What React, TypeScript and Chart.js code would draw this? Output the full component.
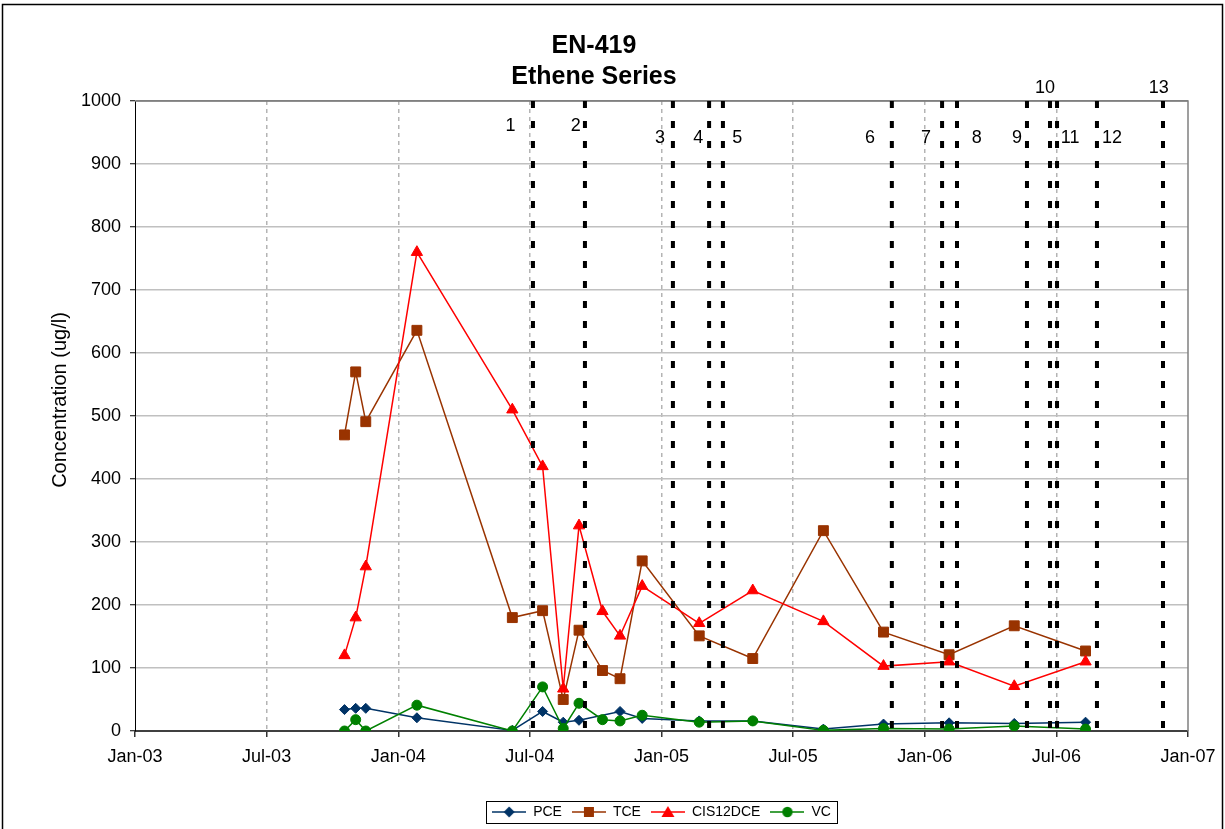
import React, { useEffect, useRef } from 'react';
import { Chart, registerables } from 'chart.js';

Chart.register(...registerables);

const FONT = '"Liberation Sans", Arial, Helvetica, sans-serif';

// x values are months since Jan-2003
const xTickLabels = ['Jan-03', 'Jul-03', 'Jan-04', 'Jul-04', 'Jan-05', 'Jul-05', 'Jan-06', 'Jul-06', 'Jan-07'];

const sampleMonths = [9.55, 10.06, 10.52, 12.85, 17.2, 18.58, 19.52, 20.24, 21.31, 22.11, 23.12, 25.72, 28.16, 31.38, 34.12, 37.11, 40.08, 43.33];
const tceValues = [470, 570, 491, 636, 180, 191, 50, 160, 96, 83, 270, 151, 115, 318, 157, 121, 167, 127];
const cisValues = [120, 180, 261, 760, 510, 420, 67, 326, 190, 151, 230, 171, 223, 174, 103, 110, 71, 110];
const vcValues = [0, 18, 0, 41, 0, 70, 4, 44, 18, 16, 25, 14, 16, 1, 4, 3, 8, 3];

const pceMonths = [9.55, 10.06, 10.52, 12.85, 17.2, 18.58, 19.52, 20.24, 22.11, 23.12, 25.72, 28.16, 31.38, 34.12, 37.11, 40.08, 43.33];
const pceValues = [34, 36, 36, 21, 1, 31, 14, 17, 31, 20, 16, 16, 3, 11, 13, 12, 14];

const eventMonths = [18.14, 20.51, 24.52, 26.17, 26.8, 34.5, 36.79, 37.47, 40.66, 41.71, 42.03, 43.85, 46.86];
const eventLabels = ['1', '2', '3', '4', '5', '6', '7', '8', '9', '10', '11', '12', '13'];
const eventLabelMonths = [17.12, 20.09, 23.93, 25.67, 27.45, 33.5, 36.06, 38.37, 40.2, 41.48, 42.63, 44.54, 46.67];
const eventLabelValues = [960, 960, 941, 941, 941, 941, 941, 941, 941, 1020, 941, 941, 1020];

const seriesNames = ['PCE', 'TCE', 'CIS12DCE', 'VC'];
const seriesColors = ['#003366', '#993300', '#ff0000', '#008000'];
const seriesStyles = ['rectRot', 'rect', 'triangle', 'circle'];
const seriesRadius = [5, 7, 6.5, 5];

const yAxisTitle = 'Concentration (ug/l)';

function makeIcon(color: string, style: string): HTMLCanvasElement {
  const c = document.createElement('canvas');
  c.width = 34;
  c.height = 14;
  const g = c.getContext('2d') as CanvasRenderingContext2D;
  g.strokeStyle = color;
  g.fillStyle = color;
  g.lineWidth = 1.5;
  g.beginPath();
  g.moveTo(0, 7);
  g.lineTo(34, 7);
  g.stroke();
  g.beginPath();
  const cx = 17, cy = 7;
  if (style === 'rectRot') {
    g.moveTo(cx, cy - 5.5); g.lineTo(cx + 5.5, cy); g.lineTo(cx, cy + 5.5); g.lineTo(cx - 5.5, cy); g.closePath();
  } else if (style === 'rect') {
    g.rect(cx - 5, cy - 5, 10, 10);
  } else if (style === 'triangle') {
    g.moveTo(cx, cy - 6); g.lineTo(cx + 6.5, cy + 5); g.lineTo(cx - 6.5, cy + 5); g.closePath();
  } else {
    g.arc(cx, cy, 5.2, 0, Math.PI * 2);
  }
  g.fill();
  return c;
}

const bgPlugin = {
  id: 'bg',
  beforeDraw(chart: any) {
    const ctx = chart.ctx;
    ctx.save();
    ctx.fillStyle = '#ffffff';
    ctx.fillRect(0, 0, chart.width, chart.height);
    ctx.restore();
  },
};

const framePlugin = {
  id: 'frame',
  beforeDatasetsDraw(chart: any) {
    const { ctx, chartArea: a } = chart;
    ctx.save();
    ctx.strokeStyle = '#808080';
    ctx.lineWidth = 1.5;
    ctx.beginPath();
    ctx.moveTo(a.left, a.top);
    ctx.lineTo(a.right, a.top);
    ctx.lineTo(a.right, a.bottom);
    ctx.stroke();
    ctx.restore();
  },
  afterDraw(chart: any) {
    const { ctx, chartArea: a } = chart;
    ctx.save();
    // outer border
    ctx.strokeStyle = '#000';
    ctx.lineWidth = 1.5;
    ctx.strokeRect(2.5, 4.5, chart.width - 5, chart.height + 20);
    // y axis title
    ctx.save();
    ctx.translate(60, (a.top + a.bottom) / 2 - 16);
    ctx.rotate(-Math.PI / 2);
    ctx.fillStyle = '#000';
    ctx.font = `20px ${FONT}`;
    ctx.textAlign = 'center';
    ctx.textBaseline = 'middle';
    ctx.fillText(yAxisTitle, 0, 0);
    ctx.restore();
    // legend frame
    const lg = chart.legend;
    if (lg && lg.legendHitBoxes && lg.legendHitBoxes.length) {
      const hb = lg.legendHitBoxes;
      let l = Infinity, r = -Infinity, cy = 0;
      hb.forEach((h: any) => {
        l = Math.min(l, h.left);
        r = Math.max(r, h.left + h.width);
        cy = h.top + h.height / 2;
      });
      ctx.lineWidth = 1;
      ctx.strokeRect(Math.round(l - 6) + 0.5, Math.round(cy - 11) + 0.5, Math.round(r - l + 12), 22);
    }
    ctx.restore();
  },
};

const eventLabelPlugin = {
  id: 'eventLabels',
  afterDatasetsDraw(chart: any) {
    const { ctx, scales } = chart;
    ctx.save();
    ctx.fillStyle = '#000';
    ctx.font = `18px ${FONT}`;
    ctx.textAlign = 'center';
    ctx.textBaseline = 'middle';
    eventLabels.forEach((t, i) => {
      ctx.fillText(t, scales.x.getPixelForValue(eventLabelMonths[i]), scales.y.getPixelForValue(eventLabelValues[i]));
    });
    ctx.restore();
  },
};

export default function App() {
  const ref = useRef<HTMLCanvasElement | null>(null);

  useEffect(() => {
    if (!ref.current) return;
    const icons = seriesNames.map((_, i) => makeIcon(seriesColors[i], seriesStyles[i]));

    const seriesData = [
      pceMonths.map((m, i) => ({ x: m, y: pceValues[i] })),
      sampleMonths.map((m, i) => ({ x: m, y: tceValues[i] })),
      sampleMonths.map((m, i) => ({ x: m, y: cisValues[i] })),
      sampleMonths.map((m, i) => ({ x: m, y: vcValues[i] })),
    ];

    const datasets: any[] = seriesNames.map((name, i) => ({
      label: name,
      data: seriesData[i],
      borderColor: seriesColors[i],
      backgroundColor: seriesColors[i],
      pointBackgroundColor: seriesColors[i],
      pointBorderColor: seriesColors[i],
      pointStyle: seriesStyles[i],
      pointRadius: seriesRadius[i],
      pointBorderWidth: 1,
      borderWidth: 1.5,
      tension: 0,
      order: 4 - i,
    }));

    eventMonths.forEach((m, i) => {
      datasets.push({
        label: 'event' + eventLabels[i],
        data: [{ x: m, y: 1000 }, { x: m, y: 0 }],
        borderColor: '#000000',
        backgroundColor: '#000000',
        borderWidth: 4,
        borderDash: [7, 13],
        pointRadius: 0,
        order: 0,
      });
    });

    const chart = new Chart(ref.current, {
      type: 'line',
      data: { datasets },
      plugins: [bgPlugin, framePlugin, eventLabelPlugin],
      options: {
        responsive: false,
        animation: false,
        layout: { padding: { top: 0, left: 0, right: 37, bottom: 0 } },
        plugins: {
          tooltip: { enabled: false },
          title: {
            display: true,
            text: ['EN-419', 'Ethene Series'],
            color: '#000',
            font: { family: FONT, size: 25, weight: 'bold', lineHeight: 1.24 },
            padding: { top: 31, bottom: 8 },
          },
          legend: {
            display: true,
            position: 'bottom',
            fullSize: false,
            labels: {
              color: '#000',
              font: { family: FONT, size: 14 },
              padding: 10,
              usePointStyle: true,
              pointStyleWidth: 34,
              boxHeight: 14,
              filter: (item: any) => item.datasetIndex < 4,
              sort: (a: any, b: any) => a.datasetIndex - b.datasetIndex,
              generateLabels: (ch: any) => {
                const base = (Chart as any).defaults.plugins.legend.labels.generateLabels(ch);
                return base.map((it: any) => ({
                  ...it,
                  pointStyle: it.datasetIndex < 4 ? icons[it.datasetIndex] : it.pointStyle,
                  fontColor: '#000',
                }));
              },
            },
          },
        },
        scales: {
          x: {
            type: 'linear',
            min: 0,
            max: 48,
            afterFit: (s: any) => { s.height = 829 - 731 - 34; },
            ticks: {
              stepSize: 6,
              autoSkip: false,
              maxRotation: 0,
              padding: 9,
              color: '#000',
              font: { family: FONT, size: 18 },
              callback: (v: any) => xTickLabels[Math.round(Number(v) / 6)] ?? '',
            },
            grid: {
              color: (c: any) => (c.tick && (c.tick.value === 0 || c.tick.value === 48) ? 'rgba(0,0,0,0)' : '#b4b4b4'),
              lineWidth: 1.5,
              tickColor: '#333',
              tickLength: 6,
              tickWidth: 1.5,
              tickBorderDash: [],
            },
            border: { color: '#404040', width: 2, dash: [4, 4] },
          },
          y: {
            type: 'linear',
            min: 0,
            max: 1000,
            afterFit: (s: any) => { s.width = 135; },
            ticks: {
              stepSize: 100,
              padding: 9,
              color: '#000',
              font: { family: FONT, size: 18 },
              callback: (v: any) => String(v),
            },
            grid: {
              color: (c: any) => (c.tick && (c.tick.value === 0) ? 'rgba(0,0,0,0)' : c.tick && c.tick.value === 1000 ? '#808080' : '#c0c0c0'),
              lineWidth: 1.5,
              tickColor: '#000',
              tickLength: 5,
              tickWidth: 1,
            },
            border: { color: '#000', width: 1 },
          },
        },
      } as any,
    });

    return () => chart.destroy();
  }, []);

  return (
    <div style={{ position: 'absolute', left: 0, top: 0, width: 1225, height: 829 }}>
      <canvas ref={ref} width={1225} height={829} />
    </div>
  );
}
